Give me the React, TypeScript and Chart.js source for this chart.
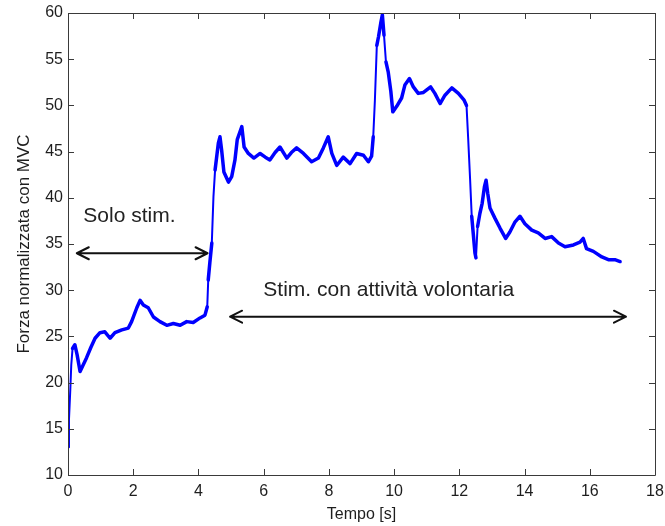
import React, { useEffect, useRef } from "react";
import { Chart, registerables } from "chart.js";

Chart.register(...registerables);

// Time axis (s) and normalized force (% MVC)
const timeS = [
  0, 0.03, 0.07, 0.1, 0.14, 0.21, 0.28, 0.37, 0.45, 0.57,
  0.7, 0.83, 0.98, 1.13, 1.29, 1.44, 1.65, 1.85, 1.95, 2.11,
  2.21, 2.31, 2.46, 2.62, 2.82, 3.03, 3.23, 3.44, 3.64, 3.84,
  4.05, 4.2, 4.27, 4.3, 4.35, 4.41, 4.46, 4.51, 4.61, 4.66,
  4.71, 4.78, 4.92, 5.02, 5.12, 5.19, 5.33, 5.4, 5.53, 5.7,
  5.89, 6.05, 6.19, 6.35, 6.5, 6.71, 6.85, 7.01, 7.22, 7.47,
  7.68, 7.83, 7.98, 8.09, 8.24, 8.44, 8.65, 8.85, 9.06, 9.21,
  9.31, 9.36, 9.41, 9.47, 9.52, 9.59, 9.64, 9.69, 9.75, 9.82,
  9.9, 9.96, 10.08, 10.23, 10.33, 10.47, 10.59, 10.74, 10.9, 11.12,
  11.25, 11.41, 11.56, 11.77, 11.97, 12.14, 12.22, 12.27, 12.33, 12.38,
  12.43, 12.48, 12.51, 12.56, 12.63, 12.7, 12.77, 12.82, 12.87, 12.94,
  13.09, 13.25, 13.42, 13.55, 13.71, 13.86, 14.01, 14.22, 14.42, 14.63,
  14.83, 15.04, 15.24, 15.5, 15.7, 15.8, 15.9, 16.11, 16.37, 16.57,
  16.77, 16.93,
];

const forceMVC = [
  13.0, 16.0, 19.2, 21.9, 23.7, 24.1, 23.0, 21.2, 21.8, 22.7,
  23.8, 24.8, 25.4, 25.5, 24.8, 25.4, 25.7, 25.9, 26.6, 28.1,
  28.9, 28.4, 28.1, 27.1, 26.6, 26.2, 26.4, 26.2, 26.6, 26.5,
  27.0, 27.3, 28.2, 31.1, 33.0, 35.1, 40.1, 43.0, 45.9, 46.6,
  45.2, 42.8, 41.7, 42.3, 44.1, 46.3, 47.7, 45.5, 44.8, 44.3,
  44.8, 44.4, 44.1, 44.9, 45.5, 44.3, 44.9, 45.4, 44.8, 43.9,
  44.3, 45.4, 46.6, 44.8, 43.5, 44.4, 43.7, 44.8, 44.6, 43.9,
  44.5, 46.6, 50.5, 56.5, 57.4, 58.9, 59.8, 57.6, 54.7, 53.6,
  51.5, 49.3, 49.9, 50.8, 52.2, 52.9, 52.0, 51.3, 51.4, 52.0,
  51.3, 50.2, 51.1, 51.9, 51.3, 50.6, 50.0, 46.5, 42.0, 38.0,
  36.0, 34.0, 33.5, 36.9, 38.3, 39.4, 41.2, 41.9, 40.5, 38.9,
  37.8, 36.7, 35.6, 36.3, 37.4, 38.0, 37.2, 36.5, 36.2, 35.6,
  35.8, 35.1, 34.7, 34.9, 35.2, 35.6, 34.5, 34.2, 33.6, 33.3,
  33.3, 33.1,
];

// Axis ranges / tick steps
const xRange = [0, 18];
const xStep = 2;
const yRange = [10, 60];
const yStep = 5;

// Annotations (data coordinates)
const arrowStartS = [0.27, 4.97];
const arrowEndS = [4.28, 17.11];
const arrowLevel = [34.0, 27.13];
const noteTexts = ["Solo stim.", "Stim. con attività volontaria"];
const noteX = [0.47, 5.99];
const noteY = [38.0, 30.0];

const FONT = '"Liberation Sans", Arial, sans-serif';

const framePlugin = {
  id: "frameAndNotes",
  afterDatasetsDraw(chart: any) {
    const { ctx, chartArea: a, scales } = chart;
    const xs = scales.x;
    const ys = scales.y;
    ctx.save();
    // box
    ctx.strokeStyle = "#3a3a3a";
    ctx.lineWidth = 1;
    ctx.beginPath();
    ctx.rect(Math.round(a.left) + 0.5, Math.round(a.top) + 0.5, Math.round(a.right - a.left), Math.round(a.bottom - a.top));
    ctx.stroke();
    // inward ticks
    const tl = 6;
    ctx.beginPath();
    xs.ticks.forEach((t: any) => {
      const px = Math.round(xs.getPixelForValue(t.value)) + 0.5;
      ctx.moveTo(px, a.bottom);
      ctx.lineTo(px, a.bottom - tl);
      ctx.moveTo(px, a.top);
      ctx.lineTo(px, a.top + tl);
    });
    ys.ticks.forEach((t: any) => {
      const py = Math.round(ys.getPixelForValue(t.value)) + 0.5;
      ctx.moveTo(a.left, py);
      ctx.lineTo(a.left + tl, py);
      ctx.moveTo(a.right, py);
      ctx.lineTo(a.right - tl, py);
    });
    ctx.stroke();

    // arrows
    ctx.strokeStyle = "#111";
    ctx.lineWidth = 2;
    ctx.lineCap = "round";
    ctx.lineJoin = "round";
    for (let i = 0; i < arrowStartS.length; i++) {
      const x0 = xs.getPixelForValue(arrowStartS[i]);
      const x1 = xs.getPixelForValue(arrowEndS[i]);
      const y = ys.getPixelForValue(arrowLevel[i]);
      const hl = 12;
      const hw = 6;
      ctx.beginPath();
      ctx.moveTo(x0, y);
      ctx.lineTo(x1, y);
      ctx.moveTo(x0 + hl, y - hw);
      ctx.lineTo(x0, y);
      ctx.lineTo(x0 + hl, y + hw);
      ctx.moveTo(x1 - hl, y - hw);
      ctx.lineTo(x1, y);
      ctx.lineTo(x1 - hl, y + hw);
      ctx.stroke();
    }
    // notes
    ctx.fillStyle = "#222";
    ctx.font = "21px " + FONT;
    ctx.textAlign = "left";
    ctx.textBaseline = "middle";
    for (let i = 0; i < noteTexts.length; i++) {
      ctx.fillText(noteTexts[i], xs.getPixelForValue(noteX[i]), ys.getPixelForValue(noteY[i]));
    }
    ctx.restore();
  },
};

export default function App() {
  const ref = useRef<HTMLCanvasElement | null>(null);
  useEffect(() => {
    if (!ref.current) return;
    const points = timeS.map((t, i) => ({ x: t, y: forceMVC[i] }));
    const chart = new Chart(ref.current, {
      type: "line",
      data: {
        datasets: [
          {
            data: points,
            borderColor: "#0000ff",
            borderWidth: 3.5,
            borderCapStyle: "round",
            borderJoinStyle: "round",
            pointRadius: 0,
            tension: 0,
            fill: false,
            segment: {
              borderWidth: (c: any) => {
                const dx = c.p1.parsed.x - c.p0.parsed.x;
                const dy = Math.abs(c.p1.parsed.y - c.p0.parsed.y);
                return dy / dx > 45 ? 2 : 3.5;
              },
            },
          },
        ],
      },
      options: {
        animation: false,
        responsive: false,
        events: [],
        layout: { padding: { top: 13, right: 10, left: 0, bottom: 0 } },
        plugins: {
          legend: { display: false },
          tooltip: { enabled: false },
          title: { display: false },
        },
        scales: {
          x: {
            type: "linear",
            min: xRange[0],
            max: xRange[1],
            border: { display: false },
            grid: { display: false, drawTicks: false },
            ticks: {
              stepSize: xStep,
              padding: 7,
              color: "#1e1e1e",
              font: { family: FONT, size: 16 },
              maxRotation: 0,
            },
            title: {
              display: true,
              text: "Tempo [s]",
              color: "#1e1e1e",
              font: { family: FONT, size: 16 },
              padding: { top: 0, bottom: 2 },
            },
            afterFit: (s: any) => {
              s.height = 51;
              s.paddingLeft = 0;
              s.paddingRight = 0;
            },
          },
          y: {
            min: yRange[0],
            max: yRange[1],
            border: { display: false },
            grid: { display: false, drawTicks: false },
            ticks: {
              stepSize: yStep,
              padding: 5,
              color: "#1e1e1e",
              font: { family: FONT, size: 16 },
            },
            title: {
              display: true,
              text: "Forza normalizzata con MVC",
              color: "#1e1e1e",
              font: { family: FONT, size: 17 },
              padding: { top: 14, bottom: 0 },
            },
            afterFit: (s: any) => {
              s.width = 68;
              s.paddingTop = 0;
              s.paddingBottom = 0;
            },
          },
        },
      },
      plugins: [framePlugin],
    });
    return () => chart.destroy();
  }, []);
  return (
    <div style={{ position: "fixed", left: 0, top: 0, width: 665, height: 526, background: "#fff" }}>
      <canvas ref={ref} width={665} height={526} style={{ display: "block" }} />
    </div>
  );
}
